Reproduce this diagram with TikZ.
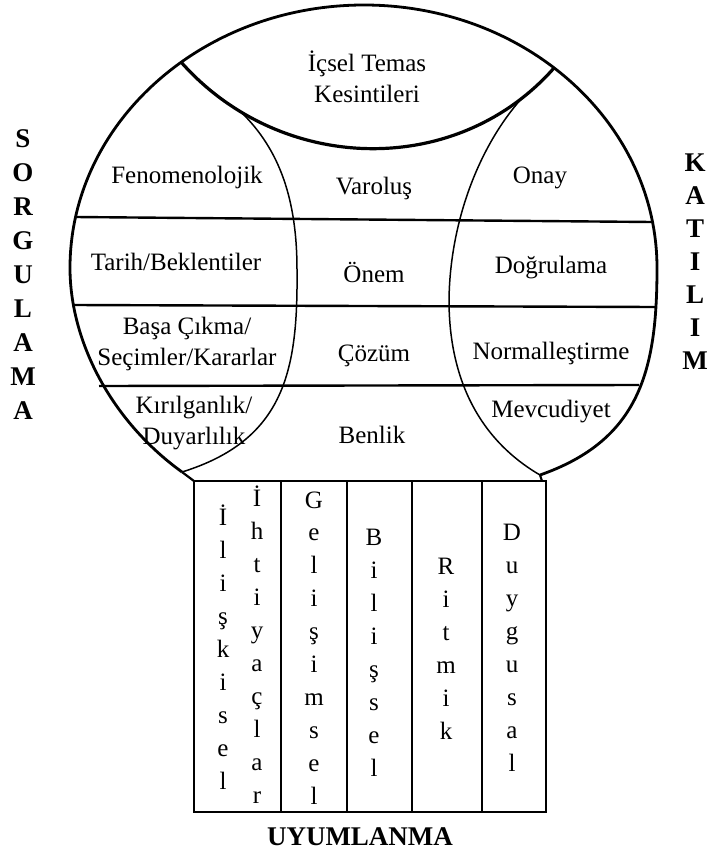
\documentclass[tikz,border=0pt]{standalone}
\usepackage{fontspec}
\setmainfont{Liberation Serif}

\begin{document}
\begin{tikzpicture}[x=1pt, y=-1pt,
    text centered,
	lbl/.style={
	  font=\fontsize{25}{31}\selectfont,
	  align=center,
	  inner sep=0pt
	},
	one/.style={
	  font=\fontsize{25}{31}\selectfont,
	  anchor=base,
	  inner sep=0pt
	},
	side/.style={
	  font=\fontsize{27}{32}\selectfont\bfseries,
	  anchor=base,
	  inner sep=0pt
	},
	rim/.style={draw, line width=2.8pt, line join=round},
	lens/.style={draw, line width=3.2pt},
	seam/.style={draw, line width=1.5pt},
	band/.style={draw, line width=2.4pt},
	box/.style={draw, line width=2.2pt}
	]
	\useasboundingbox (0,0) rectangle (708,851);

	% outer ring
	\coordinate (ltip) at (182,472);
	\coordinate (rtip) at (540,475);
	\coordinate (tl) at (181,62);
	\coordinate (tr) at (554,68);
	\coordinate (lseam) at (241,112);
	\coordinate (rseam) at (522,98);
	\path [rim] (ltip) .. controls (110,420) and (70,340) .. (70,268)
	  .. controls (70,123) and (202,5) .. (364,5)
	  .. controls (526,5) and (657,123) .. (657,268)
	  .. controls (657,370) and (640,440) .. (rtip);
	\path [lens] (tl) .. controls (280,174) and (456,179) .. (tr);
	\path [seam] (lseam) .. controls (280,150) and (297,200) .. (297,270)
	  .. controls (298,370) and (285,440) .. (ltip);
	\path [seam] (rseam) .. controls (480,145) and (450,220) .. (449,300)
	  .. controls (449,380) and (480,440) .. (rtip);
	\path [band] (75,217) -- (652,222);
	\path [band] (73,305) -- (655,307);
	\path [band] (99,386) -- (639,385);

	% base
	\coordinate (bl) at (194,481);
	\coordinate (br) at (546,812);
	\path [box] (ltip) -- (bl);
	\path [box] (rtip) -- (542,481);
	\path [box] (bl) rectangle (br);
	\foreach \x in {281,347,412,482}
	  \path [box] (\x,481) -- (\x,812);

	% ring labels
	\node at (367, 76.5) [lbl] (icsel) {İçsel Temas\\Kesintileri};
	\node at (187, 183) [one] (fenomen) {Fenomenolojik};
	\node at (374, 194) [one] (varolus) {Varoluş};
	\node at (540, 183) [one] (onay) {Onay};
	\node at (176, 270) [one] (tarih) {Tarih/Beklentiler};
	\node at (374, 282) [one] (onem) {Önem};
	\node at (551, 273) [one] (dogru) {Doğrulama};
	\node at (187, 343.7) [lbl] (basa) {Başa Çıkma/\\Seçimler/Kararlar};
	\node at (374, 361) [one] (cozum) {Çözüm};
	\node at (551, 359) [one] (normal) {Normalleştirme};
	\node at (194, 423.2) [lbl] (kirilgan) {Kırılganlık/\\Duyarlılık};
	\node at (372, 443) [one] (benlik) {Benlik};
	\node at (551, 417) [one] (mevcut) {Mevcudiyet};

	% columns
	\foreach \ch [count=\i from 0] in {İ,l,i,ş,k,i,s,e,l}
	  \node at (223, 525+33*\i) [one] (iliski-\i) {\ch};
	\foreach \ch [count=\i from 0] in {İ,h,t,i,y,a,ç,l,a,r}
	  \node at (257, 506+33.1*\i) [one] (ihtiyac-\i) {\ch};
	\foreach \ch [count=\i from 0] in {G,e,l,i,ş,i,m,s,e,l}
	  \node at (314, 508+32.9*\i) [one] (gelisim-\i) {\ch};
	\foreach \ch [count=\i from 0] in {B,i,l,i,ş,s,e,l}
	  \node at (374, 545+33*\i) [one] (bilis-\i) {\ch};
	\foreach \ch [count=\i from 0] in {R,i,t,m,i,k}
	  \node at (446, 574+33*\i) [one] (ritmik-\i) {\ch};
	\foreach \ch [count=\i from 0] in {D,u,y,g,u,s,a,l}
	  \node at (512, 540+33*\i) [one] (duygu-\i) {\ch};

	% side words
	\foreach \ch [count=\i from 0] in {S,O,R,G,U,L,A,M,A}
	  \node at (23, 147+34*\i) [side] (sorgu-\i) {\ch};
	\foreach \ch [count=\i from 0] in {K,A,T,I,L,I,M}
	  \node at (695, 171+33*\i) [side] (katilim-\i) {\ch};
	\node at (360, 845) [side] (uyum) {UYUMLANMA};
\end{tikzpicture}
\end{document}
